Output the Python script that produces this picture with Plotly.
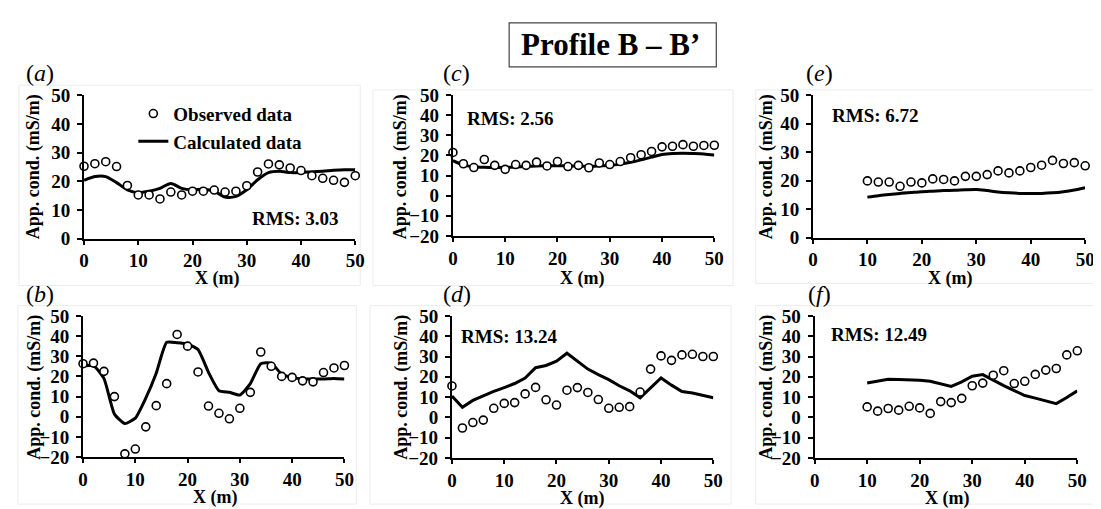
import plotly.graph_objects as go

W, H = 1101, 509

# ---------------- data ----------------
x_full = list(range(0, 52, 2))      # 0..50 step 2
x_part = list(range(10, 52, 2))     # 10..50 step 2

obs_a = [25.2, 26.1, 26.8, 25.1, 18.5, 15.2, 15.2, 13.8, 16.2, 15.2, 16.5, 16.5, 16.9,
         16.2, 16.5, 18.4, 23.2, 26.0, 25.7, 24.6, 23.7, 21.9, 21.0, 20.3, 19.6, 21.9]
calc_a = [20.3, 21.6, 21.6, 19.5, 17.0, 16.0, 16.5, 17.5, 19.2, 17.5, 17.0, 17.2, 16.5,
          14.5, 14.7, 17.0, 20.5, 23.0, 23.5, 23.0, 23.0, 23.3, 23.5, 23.8, 24.0, 24.0]

obs_b = [26.3, 26.6, 22.5, 10.0, -18.4, -16.0, -5.0, 5.5, 16.4, 40.8, 35.0, 22.2, 5.3,
         1.7, -1.0, 4.2, 12.1, 32.1, 25.0, 20.0, 19.5, 17.8, 17.3, 21.9, 24.2, 25.4]
calc_b = [25.0, 25.4, 19.0, 1.3, -3.4, -0.7, 9.2, 21.6, 36.9, 36.7, 36.0, 33.3, 22.0,
          12.9, 12.1, 10.8, 16.4, 26.3, 26.6, 21.1, 19.5, 18.7, 18.7, 18.7, 19.0, 18.7]

obs_c = [21.5, 15.9, 14.0, 18.0, 15.1, 13.1, 15.5, 15.1, 16.7, 14.8, 17.0, 14.5, 15.1,
         13.9, 16.3, 15.5, 17.0, 18.9, 20.4, 22.0, 24.3, 24.6, 25.4, 24.6, 25.0, 25.1]
calc_c = [17.4, 15.2, 14.4, 14.1, 14.0, 14.1, 14.3, 14.6, 14.8, 14.9, 14.9, 14.8, 14.7,
          14.6, 14.8, 15.1, 15.7, 16.6, 17.8, 19.2, 20.5, 21.0, 21.1, 21.0, 20.8, 20.3]

obs_d = [15.5, -5.2, -2.5, -1.3, 4.5, 6.9, 7.3, 11.6, 14.8, 8.7, 6.1, 13.4, 14.7,
         12.3, 8.8, 4.5, 5.0, 5.3, 12.5, 23.8, 30.3, 28.1, 30.8, 31.1, 30.0, 30.0]
calc_d = [10.5, 5.0, 8.4, 10.8, 12.8, 14.7, 16.7, 19.4, 24.5, 25.6, 27.7, 31.6, 27.7,
          23.8, 21.1, 18.6, 15.6, 13.1, 9.7, 14.4, 19.4, 15.9, 12.8, 12.0, 10.9, 9.7]

obs_e = [19.9, 19.5, 19.5, 18.0, 19.5, 19.2, 20.6, 20.4, 19.9, 21.5, 21.5, 22.1, 23.4,
         22.7, 23.4, 24.6, 25.4, 27.1, 26.0, 26.3, 25.2]
calc_e = [14.2, 14.7, 15.1, 15.5, 15.8, 16.1, 16.3, 16.5, 16.6, 16.8, 16.9, 16.5, 16.0,
          15.7, 15.5, 15.5, 15.5, 15.7, 16.1, 16.7, 17.5]

obs_f = [5.2, 3.1, 4.4, 3.6, 5.5, 4.7, 2.0, 7.8, 7.3, 9.4, 15.6, 16.9, 20.8, 23.0,
         16.7, 17.8, 21.2, 23.3, 24.1, 30.8, 32.8]
calc_f = [17.0, 18.0, 18.8, 18.7, 18.6, 18.3, 17.8, 16.7, 15.3, 17.5, 20.3, 21.1, 18.3,
          15.7, 13.2, 10.8, 9.5, 8.3, 6.8, 9.8, 13.1]

x_ticks = [0, 10, 20, 30, 40, 50]
panel_labels = ["a", "b", "c", "d", "e", "f"]
rms_texts = ["RMS: 3.03", "RMS: 9.37", "RMS: 2.56", "RMS: 13.24", "RMS: 6.72", "RMS: 12.49"]
title_text = "Profile B – B’"
y_title = "App. cond. (mS/m)"
x_title = "X (m)"
legend_names = ["Observed data", "Calculated data"]

FONT = "Times New Roman, Liberation Serif, serif"


def px(v):  # horizontal pixel -> paper
    return v / W


def py(v):  # vertical pixel (from top) -> paper
    return 1 - v / H


panels = [
    dict(x=x_full, obs=obs_a, calc=calc_a, shape="spline", smooth=0.8,
         xd=(72, 347), yd=(230, 80.5), yr=[0, 50]),
    dict(x=x_full, obs=obs_b, calc=calc_b, shape="spline", smooth=0.5,
         xd=(71, 336), yd=(458, 310.7), yr=[-20, 50]),
    dict(x=x_full, obs=obs_c, calc=calc_c, shape="spline", smooth=0.8,
         xd=(446, 711), yd=(227.3, 80.5), yr=[-20, 50]),
    dict(x=x_full, obs=obs_d, calc=calc_d, shape="linear", smooth=0,
         xd=(445, 710), yd=(459, 310.7), yr=[-20, 50]),
    dict(x=x_part, obs=obs_e, calc=calc_e, shape="spline", smooth=0.8,
         xd=(811, 1087), yd=(229, 80.5), yr=[0, 50]),
    dict(x=x_part, obs=obs_f, calc=calc_f, shape="linear", smooth=0,
         xd=(812.7, 1079), yd=(459, 310.7), yr=[-20, 50]),
]

label_pos = [(27, 57), (27, 288), (450, 57), (450, 288), (818, 57), (818, 288)]
ytitle_pos = [(21, 155), (21, 385), (393, 155), (393, 385), (764, 155), (764, 385)]
xtitle_pos = [(207, 272), (205, 500), (577, 272), (577, 501.5), (950, 272), (947, 501.5)]
rms_pos = [(47.3, 7.0, "right"), (50.2, -11.6, "right"), (2.3, 38.6, "left"),
           (1.3, 39.7, "left"), (3.1, 43.0, "left"), (2.7, 41.0, "left")]
bg_boxes = [(6, 70, 352, 279), (5, 300, 348, 507), (365, 75, 730, 279),
            (362, 300, 728, 507), (753, 75, 1099, 277), (753, 300, 1097, 507)]

fig = go.Figure()
layout = dict(
    width=W, height=H, margin=dict(l=0, r=0, t=0, b=0),
    paper_bgcolor="white", plot_bgcolor="rgba(0,0,0,0)",
    font=dict(family=FONT, color="black"),
    showlegend=True,
    legend=dict(x=px(122), y=py(80), xanchor="left", yanchor="top",
                bgcolor="rgba(0,0,0,0)", itemwidth=30, tracegroupgap=0,
                font=dict(family=FONT, size=19, color="black", weight="bold")),
)
annotations = []
shapes = []

for i, p in enumerate(panels):
    n = "" if i == 0 else str(i + 1)
    xa, ya = "x" + n, "y" + n
    fig.add_trace(go.Scatter(
        x=p["x"], y=p["calc"], xaxis=xa, yaxis=ya, mode="lines",
        name=legend_names[1], showlegend=(i == 0), legendrank=2,
        line=dict(color="black", width=3, shape=p["shape"],
                  smoothing=p["smooth"] if p["shape"] == "spline" else None),
        cliponaxis=False))
    fig.add_trace(go.Scatter(
        x=p["x"], y=p["obs"], xaxis=xa, yaxis=ya, mode="markers",
        name=legend_names[0], showlegend=(i == 0), legendrank=1,
        marker=dict(symbol="circle", size=8, color="white",
                    line=dict(color="black", width=1.6)),
        cliponaxis=False))

    axis_common = dict(showgrid=False, zeroline=False, showline=True,
                       linecolor="black", linewidth=2, ticks="outside",
                       tickwidth=2, tickcolor="black",
                       tickfont=dict(family=FONT, size=19, color="black", weight="bold"))
    layout["xaxis" + n] = dict(
        axis_common, domain=[px(p["xd"][0]), px(p["xd"][1])], range=[0, 50],
        tickvals=x_ticks, anchor=ya, ticklen=4, ticklabelstandoff=0)
    layout["yaxis" + n] = dict(
        axis_common, domain=[py(p["yd"][0]), py(p["yd"][1])], range=p["yr"],
        dtick=10, tick0=0, anchor=xa, ticklen=5, ticklabelstandoff=3)

    lx, ly = label_pos[i]
    annotations.append(dict(
        text="(<i>%s</i>)" % panel_labels[i], x=px(lx), y=py(ly), xref="paper", yref="paper",
        showarrow=False, xanchor="center", yanchor="middle",
        font=dict(family=FONT, size=24, color="black")))
    tx, ty = ytitle_pos[i]
    annotations.append(dict(
        text=y_title, x=px(tx), y=py(ty), xref="paper", yref="paper", textangle=-90,
        showarrow=False, xanchor="center", yanchor="middle",
        font=dict(family=FONT, size=18, color="black", weight="bold")))
    tx, ty = xtitle_pos[i]
    annotations.append(dict(
        text=x_title, x=px(tx), y=py(ty), xref="paper", yref="paper",
        showarrow=False, xanchor="center", yanchor="middle",
        font=dict(family=FONT, size=18, color="black", weight="bold")))
    rx, ry, anc = rms_pos[i]
    annotations.append(dict(
        text=rms_texts[i], x=rx, y=ry, xref=xa, yref=ya,
        showarrow=False, xanchor=anc, yanchor="middle",
        font=dict(family=FONT, size=19, color="black", weight="bold")))
    bx0, by0, bx1, by1 = bg_boxes[i]
    shapes.append(dict(type="rect", xref="paper", yref="paper", layer="below",
                       x0=px(bx0), x1=px(bx1), y0=py(by1), y1=py(by0),
                       line=dict(color="#ececec", width=1)))

shapes.append(dict(type="rect", xref="paper", yref="paper",
                   x0=px(503), x1=px(713), y0=py(51), y1=py(5),
                   line=dict(color="#444444", width=1.2)))
annotations.append(dict(
    text=title_text, x=px(606), y=py(28), xref="paper", yref="paper",
    showarrow=False, xanchor="center", yanchor="middle",
    font=dict(family=FONT, size=31, color="black", weight="bold")))

layout["annotations"] = annotations
layout["shapes"] = shapes
fig.update_layout(**layout)

fig.write_html("out.html")
